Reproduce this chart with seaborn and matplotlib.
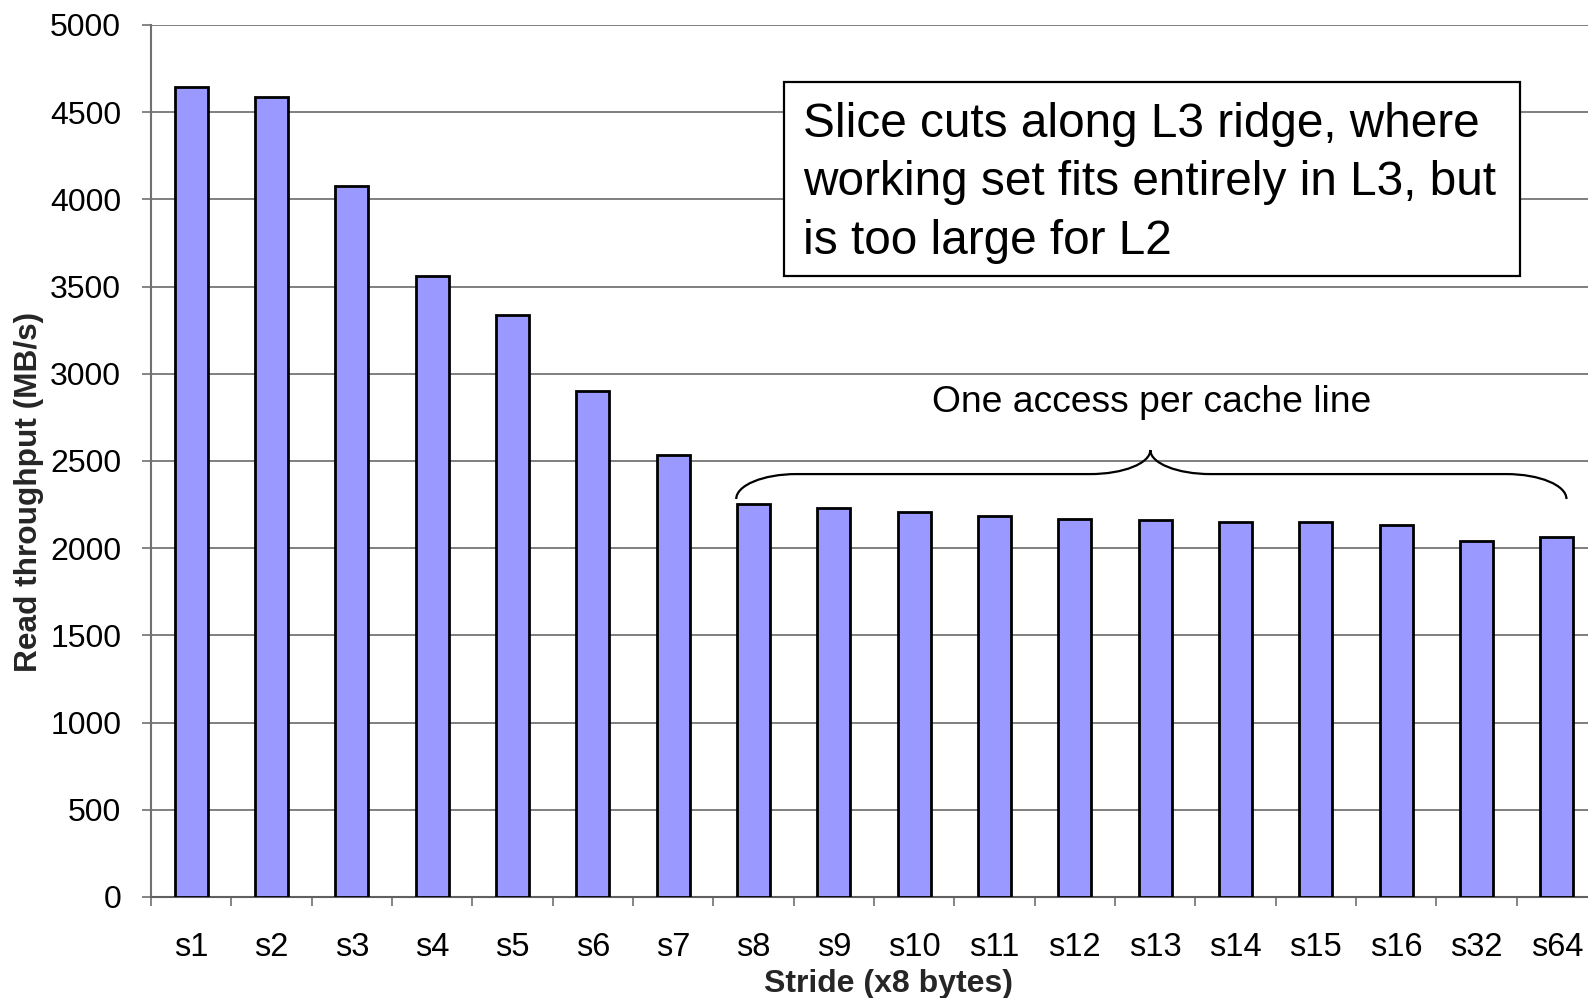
import numpy as np
import pandas as pd
import seaborn as sns
import matplotlib
matplotlib.use("Agg")
import matplotlib.pyplot as plt
from matplotlib.path import Path
from matplotlib.patches import PathPatch, Rectangle
from matplotlib.ticker import FixedLocator

# Read throughput per stride
strides = ["s1", "s2", "s3", "s4", "s5", "s6", "s7", "s8", "s9", "s10",
           "s11", "s12", "s13", "s14", "s15", "s16", "s32", "s64"]
throughput = [4643, 4585, 4077, 3558, 3337, 2901, 2536, 2252, 2229, 2208,
              2187, 2166, 2162, 2150, 2148, 2134, 2039, 2062]

y_ticks = [0, 500, 1000, 1500, 2000, 2500, 3000, 3500, 4000, 4500, 5000]

box_text = ("Slice cuts along L3 ridge, where\n"
            "working set fits entirely in L3, but\n"
            "is too large for L2")
brace_text = "One access per cache line"

sns.set_theme(style="white")
plt.rcParams["font.family"] = ["Liberation Sans", "DejaVu Sans"]

W, H = 1588, 998
fig = plt.figure(figsize=(W / 100, H / 100), dpi=100)


def fx(x):
    return x / W


def fy(y):
    return 1 - y / H


# axes extend past the right edge of the canvas
ax = fig.add_axes([fx(151), fy(897), 1446 / W, 872 / H])

df = pd.DataFrame({"stride": strides, "throughput": throughput})
sns.barplot(data=df, x="stride", y="throughput", color="#9999FF",
            saturation=1, edgecolor="black", linewidth=2.0, width=0.41,
            ax=ax, zorder=3)

ax.set_xlim(-0.5, len(strides) - 0.5)
ax.set_ylim(0, 5000)
ax.set_yticks(y_ticks)
ax.set_yticklabels([str(t) for t in y_ticks])
ax.yaxis.grid(True, color="#6a6a6a", linewidth=1.2, zorder=0)
ax.xaxis.grid(False)
ax.set_axisbelow(True)

for side in ("top", "right"):
    ax.spines[side].set_visible(False)
ax.spines["left"].set_color("#707070")
ax.spines["left"].set_linewidth(1.5)
ax.spines["bottom"].set_color("#606060")
ax.spines["bottom"].set_linewidth(1.5)

ax.tick_params(axis="y", which="major", direction="out", length=6.5,
               width=1.2, color="#707070", labelsize=23, pad=15,
               labelcolor="black", left=True)
ax.tick_params(axis="x", which="major", length=0, labelsize=23.5, pad=25,
               labelcolor="black")
ax.xaxis.set_minor_locator(FixedLocator(np.arange(-0.5, len(strides), 1.0)))
ax.tick_params(axis="x", which="minor", direction="out", length=6.5,
               width=1.2, color="#707070", bottom=True)

ax.set_xlabel("Stride (x8 bytes)", fontsize=23, fontweight="bold")
ax.set_ylabel("Read throughput (MB/s)", fontsize=22.8, fontweight="bold")
ax.xaxis.set_label_coords((889 - 151) / 1446, (897 - 984) / 872)
ax.xaxis.label.set_verticalalignment("center")
ax.yaxis.set_label_coords((29 - 151) / 1446, (897 - 492) / 872)
ax.yaxis.label.set_verticalalignment("center")
ax.yaxis.label.set_horizontalalignment("center")

# curly brace over the cache-line strides
x0, x1, xm = 6.785, 17.12, 11.94
yE, yL, yP = 2282, 2425, 2563
r, k = 0.75, 0.552
verts = [
    (x0, yE),
    (x0, yE + k * (yL - yE)), (x0 + r * (1 - k), yL), (x0 + r, yL),
    (xm - r, yL),
    (xm - r * (1 - k), yL), (xm, yP - k * (yP - yL)), (xm, yP),
    (xm, yP - k * (yP - yL)), (xm + r * (1 - k), yL), (xm + r, yL),
    (x1 - r, yL),
    (x1 - r * (1 - k), yL), (x1, yE + k * (yL - yE)), (x1, yE),
]
codes = ([Path.MOVETO] + [Path.CURVE4] * 3 + [Path.LINETO] + [Path.CURVE4] * 6
         + [Path.LINETO] + [Path.CURVE4] * 3)
ax.add_patch(PathPatch(Path(verts, codes), facecolor="none",
                       edgecolor="black", linewidth=1.6, zorder=4,
                       clip_on=False))
fig.text(fx(1152), fy(403), brace_text, fontsize=26.8, ha="center",
         va="center", color="black")

# note box
fig.patches.append(Rectangle((fx(784), fy(275.5)), 736 / W, 193.5 / H,
                             transform=fig.transFigure, facecolor="white",
                             edgecolor="black", linewidth=1.6, zorder=5))
fig.text(fx(803), fy(253.5), box_text, fontsize=34.4, ha="left",
         va="baseline", linespacing=1.372, color="black", zorder=6)

fig.savefig("out.png", dpi=100)
